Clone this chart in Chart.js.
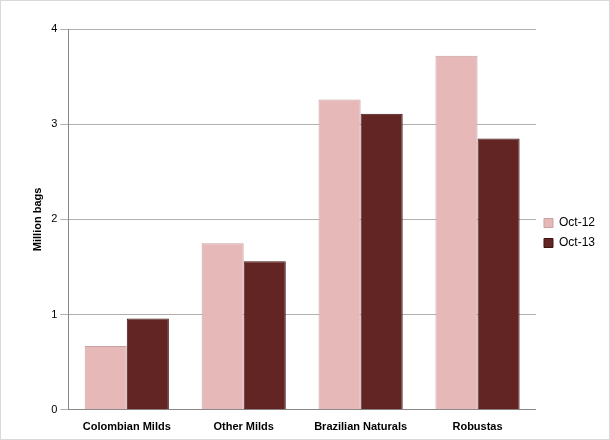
<!DOCTYPE html>
<html><head>
<script src="https://cdn.jsdelivr.net/npm/chart.js@4"></script>
<style>
body{margin:0;background:#fff;}
#wrap{position:absolute;left:0;top:0;width:608px;height:438px;border:1px solid #d9d9d9;}
</style>
</head><body>
<div id="wrap"><canvas id="chart" width="608" height="438"></canvas></div>
<script>
const categories = ['Colombian Milds', 'Other Milds', 'Brazilian Naturals', 'Robustas'];
const oct12 = [0.67, 1.75, 3.26, 3.72];
const oct13 = [0.96, 1.56, 3.11, 2.85];

const ctx = document.getElementById('chart').getContext('2d');
new Chart(ctx, {
    type: 'bar',
    data: {
        labels: categories,
        datasets: [
            { label: 'Oct-12', data: oct12, backgroundColor: '#e6b9b8', borderColor: '#c9a0a0', borderWidth: 1 },
            { label: 'Oct-13', data: oct13, backgroundColor: '#632523', borderColor: '#3f1514', borderWidth: 1 }
        ]
    },
    options: {
        responsive: false,
        animation: false,
        layout: { padding: { top: 28, right: 4, left: 26, bottom: 2 } },
        datasets: { bar: { categoryPercentage: 0.72, barPercentage: 1 } },
        plugins: {
            legend: {
                position: 'right',
                labels: { boxWidth: 9, boxHeight: 9, color: '#000', font: { family: 'Liberation Sans', size: 12 }, padding: 8 }
            },
            tooltip: { enabled: false }
        },
        scales: {
            x: {
                grid: { display: false },
                border: { color: '#888' },
                ticks: { color: '#000', font: { family: 'Liberation Sans', size: 11, weight: 'bold' } }
            },
            y: {
                min: 0, max: 4,
                ticks: { stepSize: 1, color: '#000', font: { family: 'Liberation Sans', size: 11 } },
                grid: { color: '#b0b0b0', drawTicks: true },
                border: { color: '#888' },
                title: { display: true, text: 'Million bags', color: '#000', font: { family: 'Liberation Sans', size: 11, weight: 'bold' } }
            }
        }
    }
});
</script>
</body></html>
